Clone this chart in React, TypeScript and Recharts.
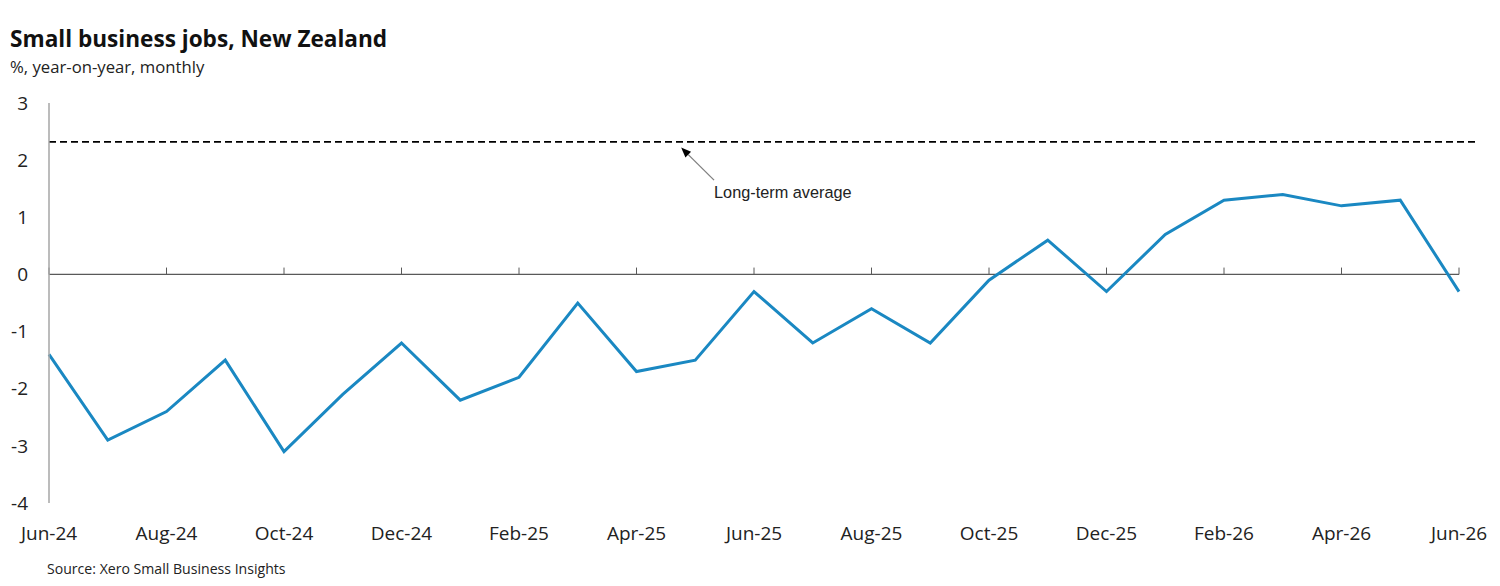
import React from "react";
import { LineChart, Line, XAxis, YAxis, ReferenceLine } from "recharts";

// Monthly categories, Jun-24 .. Jun-26
const months = [
  "Jun-24", "Jul-24", "Aug-24", "Sep-24", "Oct-24", "Nov-24", "Dec-24",
  "Jan-25", "Feb-25", "Mar-25", "Apr-25", "May-25", "Jun-25", "Jul-25",
  "Aug-25", "Sep-25", "Oct-25", "Nov-25", "Dec-25", "Jan-26", "Feb-26",
  "Mar-26", "Apr-26", "May-26", "Jun-26",
];

// Small business jobs, % year-on-year
const jobsGrowth = [
  -1.4, -2.9, -2.4, -1.5, -3.1, -2.1, -1.2, -2.2, -1.8, -0.5, -1.7, -1.5,
  -0.3, -1.2, -0.6, -1.2, -0.1, 0.6, -0.3, 0.7, 1.3, 1.4, 1.2, 1.3, -0.3,
];

const longTermAverage = 2.32;

const yTicks = [-4, -3, -2, -1, 0, 1, 2, 3];
const xTickIndexes = [0, 2, 4, 6, 8, 10, 12, 14, 16, 18, 20, 22, 24];

// Annotation arrow, in data coordinates (month index, %)
const arrowTail = { x: 11.32, y: 1.65 };
const arrowTip = { x: 10.76, y: 2.22 };

const data = months.map((m, i) => ({ i, month: m, v: jobsGrowth[i] }));

const FONT = "'Open Sans', sans-serif";
const BLUE = "#1a88c2";

const ArrowShape = (p: any) => {
  const { x1, y1, x2, y2 } = p;
  const ang = Math.atan2(y2 - y1, x2 - x1);
  const len = 10;
  const half = 4;
  const bx = x2 - len * Math.cos(ang);
  const by = y2 - len * Math.sin(ang);
  const px = -Math.sin(ang) * half;
  const py = Math.cos(ang) * half;
  return (
    <g>
      <line x1={x1} y1={y1} x2={bx} y2={by} stroke="#7f7f7f" strokeWidth={1.3} />
      <polygon
        points={`${x2},${y2} ${bx + px},${by + py} ${bx - px},${by - py}`}
        fill="#000"
      />
      <text
        x={x1}
        y={y1 + 18}
        fontFamily="'Liberation Sans', Arial, sans-serif"
        fontSize={16.3}
        fill="#222"
      >
        Long-term average
      </text>
    </g>
  );
};

export default function App() {
  return (
    <div
      style={{
        position: "absolute",
        left: 0,
        top: 0,
        width: 1500,
        height: 586,
        background: "#fff",
        overflow: "hidden",
      }}
    >
      <svg
        width={1500}
        height={586}
        style={{ position: "absolute", left: 0, top: 0 }}
      >
        <text x={10} y={47} fontFamily={FONT} fontWeight={700} fontSize={22.6} fill="#111">
          Small business jobs, New Zealand
        </text>
        <text x={10} y={73} fontFamily={FONT} fontSize={16.7} fill="#222">
          %, year-on-year, monthly
        </text>
        <text x={47} y={574} fontFamily={FONT} fontSize={14.1} fill="#222">
          Source: Xero Small Business Insights
        </text>
      </svg>
      <div style={{ position: "absolute", left: 0, top: 0 }}>
        <LineChart
          width={1500}
          height={586}
          data={data}
          margin={{ top: 103, right: 23, bottom: 43, left: 0 }}
        >
          <XAxis
            dataKey="i"
            type="number"
            domain={[0, 24]}
            ticks={xTickIndexes}
            tickFormatter={(i: number) => months[i]}
            interval={0}
            axisLine={false}
            tickLine={false}
            tickSize={0}
            tickMargin={24}
            height={40}
            padding={{ left: 0, right: 18 }}
            tick={{ fontFamily: FONT, fontSize: 19, fill: "#222" }}
          />
          <YAxis
            type="number"
            domain={[-4, 3]}
            ticks={yTicks}
            interval={0}
            width={49}
            axisLine={{ stroke: "#a6a6a6", strokeWidth: 1.5 }}
            tickLine={false}
            tickSize={0}
            tickMargin={21}
            tick={{ fontFamily: FONT, fontSize: 19, fill: "#222" }}
          />
          <ReferenceLine
            y={longTermAverage}
            stroke="#000"
            strokeWidth={1.6}
            strokeDasharray="7 4"
          />
          <ReferenceLine
            segment={[
              { x: 0, y: 0 },
              { x: 24, y: 0 },
            ]}
            stroke="#595959"
            strokeWidth={1.2}
          />
          {xTickIndexes.map((i) => (
            <ReferenceLine
              key={i}
              segment={[
                { x: i, y: 0 },
                { x: i, y: 0.12 },
              ]}
              stroke="#595959"
              strokeWidth={1}
            />
          ))}
          <ReferenceLine
            segment={[arrowTail, arrowTip]}
            shape={ArrowShape}
          />
          <Line
            type="linear"
            dataKey="v"
            stroke={BLUE}
            strokeWidth={3}
            dot={false}
            activeDot={false}
            isAnimationActive={false}
          />
        </LineChart>
      </div>
    </div>
  );
}
